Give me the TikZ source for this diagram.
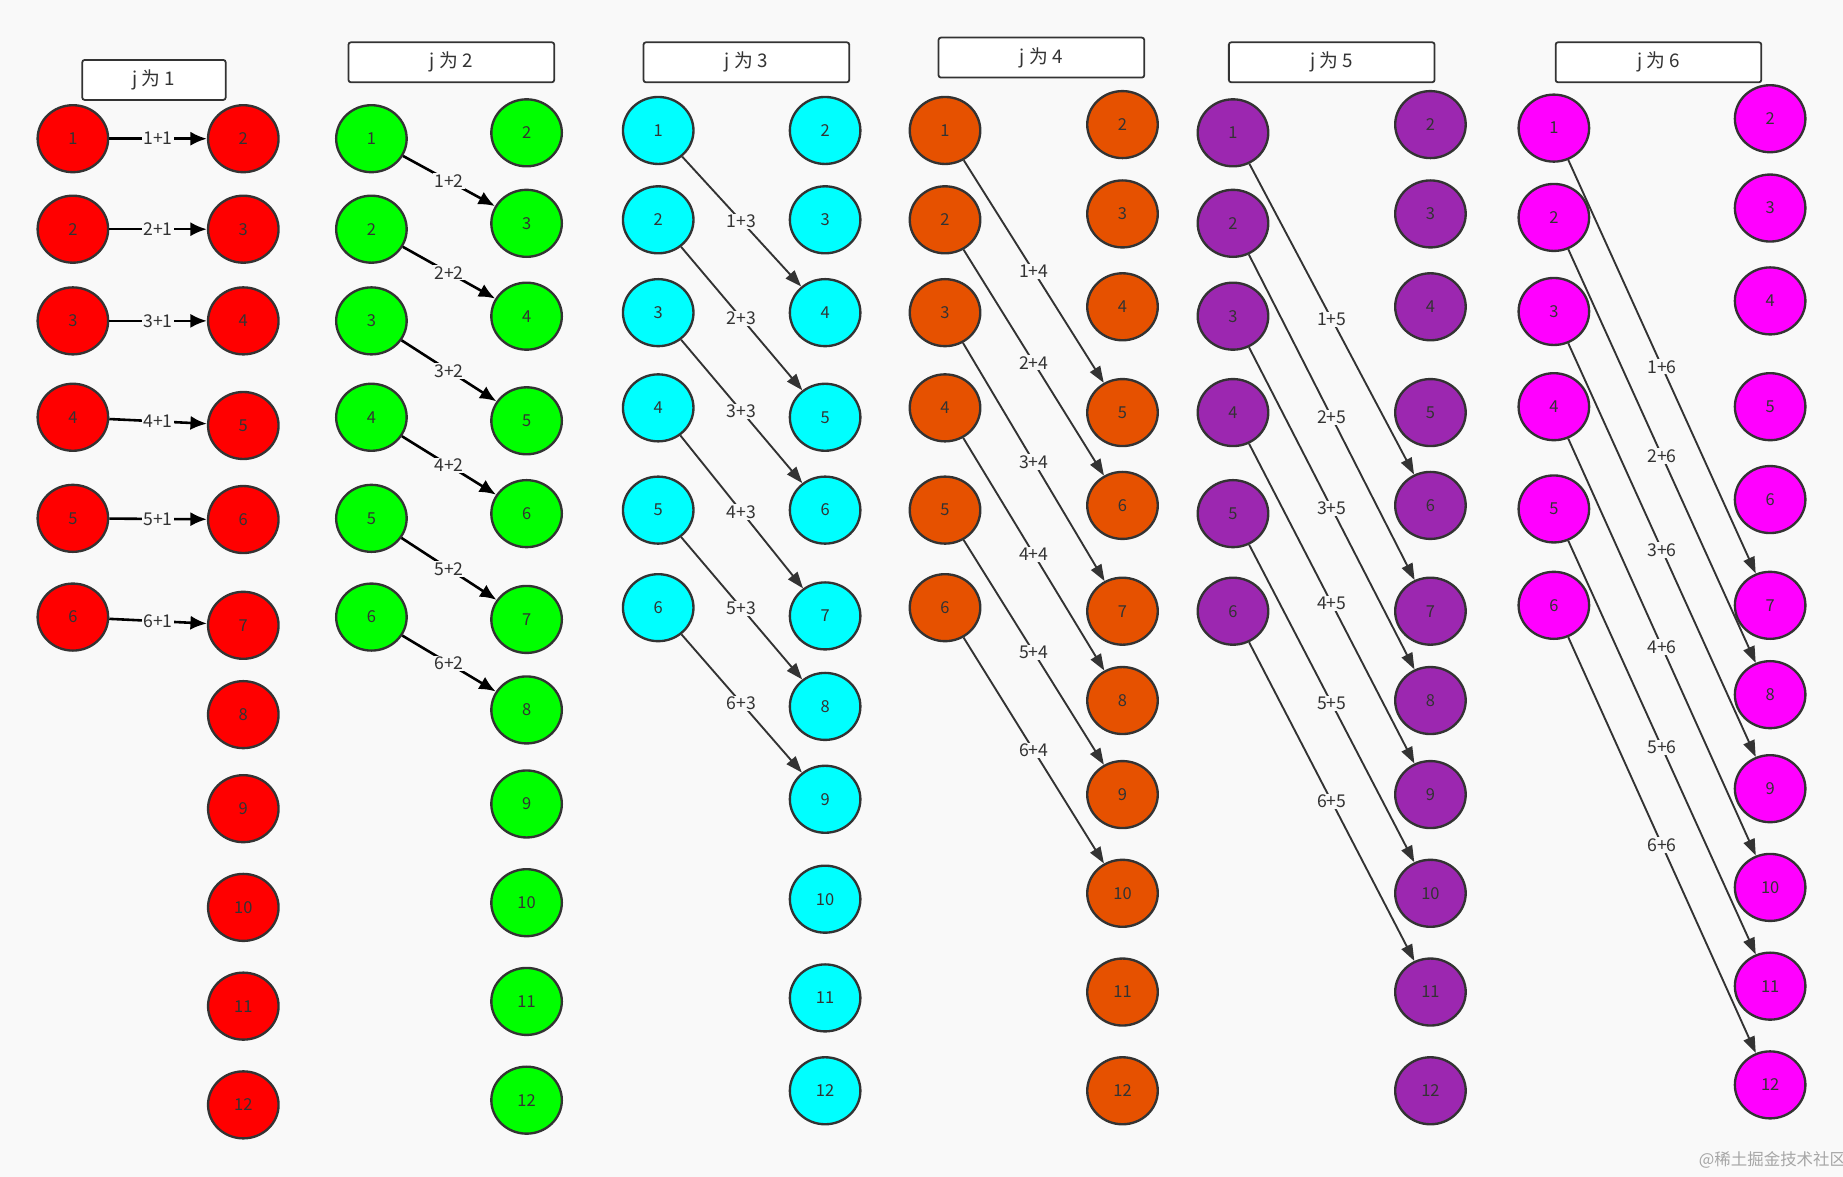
\documentclass[tikz,border=0pt]{standalone}
\usepackage{fontspec}
\setmainfont{Noto Sans CJK SC}
\usetikzlibrary{shapes.geometric,arrows.meta}
\definecolor{bg}{HTML}{F9F9F9}
\definecolor{ln}{HTML}{333333}
\definecolor{cA}{HTML}{FF0000}
\definecolor{cB}{HTML}{00FF00}
\definecolor{cC}{HTML}{00FFFF}
\definecolor{cD}{HTML}{E65100}
\definecolor{cE}{HTML}{9C27B0}
\definecolor{cF}{HTML}{FF00FF}
\tikzset{
 ball/.style={ellipse,draw=ln,line width=2pt,fill=#1,minimum width=60pt,minimum height=57pt,inner sep=0pt,font=\fontsize{14}{14}\selectfont,text=ln},
 hdr/.style={draw=ln,line width=1.5pt,fill=white,rounded corners=2pt,minimum width=#1,minimum height=34pt,font=\fontsize{16}{16}\selectfont,text=ln},
 lab/.style={fill=bg,inner sep=1pt,font=\fontsize{15}{15}\selectfont,text=ln},
 thick arr/.style={line width=2.2pt,black,-{Latex[length=14pt,width=12pt]}},
 thin arr/.style={line width=1.6pt,ln,-{Triangle[length=14pt,width=10pt]}},
}
\begin{document}
\begin{tikzpicture}[x=1pt,y=-1pt]
\fill[bg] (0,0) rectangle (1568,1001);
\useasboundingbox (0,0) rectangle (1568,1001);
% headers
\node[hdr=122pt] (h1) at (131,68) {j 为 1};
\node[hdr=175pt] (h2) at (384,53) {j 为 2};
\node[hdr=175pt] (h3) at (635,53) {j 为 3};
\node[hdr=175pt] (h4) at (886,49) {j 为 4};
\node[hdr=175pt] (h5) at (1133,53) {j 为 5};
\node[hdr=175pt] (h6) at (1411,53) {j 为 6};
% column 1
\foreach \y [count=\i] in {118,195,273,355,441,525} \node[ball=cA] (c1l\i) at (62,\y) {\i};
\foreach \y [count=\k] in {118,195,273,362,442,532,608,688,772,856,940}{\pgfmathtruncatemacro\n{\k+1}\node[ball=cA] (c1r\n) at (207,\y) {\n};}
% column 2
\foreach \y [count=\i] in {118,195,273,355,441,525} \node[ball=cB] (c2l\i) at (316,\y) {\i};
\foreach \y [count=\k] in {113,190,269,358,437,527,604,684,768,852,936}{\pgfmathtruncatemacro\n{\k+1}\node[ball=cB] (c2r\n) at (448,\y) {\n};}
% column 3
\foreach \y [count=\i] in {111,187,266,347,434,517} \node[ball=cC] (c3l\i) at (560,\y) {\i};
\foreach \y [count=\k] in {111,187,266,355,434,524,601,680,765,849,928}{\pgfmathtruncatemacro\n{\k+1}\node[ball=cC] (c3r\n) at (702,\y) {\n};}
% column 4
\foreach \y [count=\i] in {111,187,266,347,434,517} \node[ball=cD] (c4l\i) at (804,\y) {\i};
\foreach \y [count=\k] in {106,182,261,351,430,520,596,676,760,844,928}{\pgfmathtruncatemacro\n{\k+1}\node[ball=cD] (c4r\n) at (955,\y) {\n};}
% column 5
\foreach \y [count=\i] in {113,190,269,351,437,520} \node[ball=cE] (c5l\i) at (1049,\y) {\i};
\foreach \y [count=\k] in {106,182,261,351,430,520,596,676,760,844,928}{\pgfmathtruncatemacro\n{\k+1}\node[ball=cE] (c5r\n) at (1217,\y) {\n};}
% column 6
\foreach \y [count=\i] in {109,185,265,346,433,515} \node[ball=cF] (c6l\i) at (1322,\y) {\i};
\foreach \y [count=\k] in {101,177,256,346,425,515,591,671,755,839,923}{\pgfmathtruncatemacro\n{\k+1}\node[ball=cF] (c6r\n) at (1506,\y) {\n};}
% arrows
\foreach \c in {1,2}{
 \foreach \i in {1,...,6}{\pgfmathtruncatemacro\j{\i+\c}
  \draw[thick arr] (c\c l\i) -- node[lab]{\i+\c} (c\c r\j);}}
\foreach \c in {3,4,5,6}{
 \foreach \i in {1,...,6}{\pgfmathtruncatemacro\j{\i+\c}
  \draw[thin arr] (c\c l\i) -- node[lab]{\i+\c} (c\c r\j);}}
\node[text=gray!70,font=\fontsize{14}{14}\selectfont] (wm) at (1508,987) {@稀土掘金技术社区};
\end{tikzpicture}
\end{document}
